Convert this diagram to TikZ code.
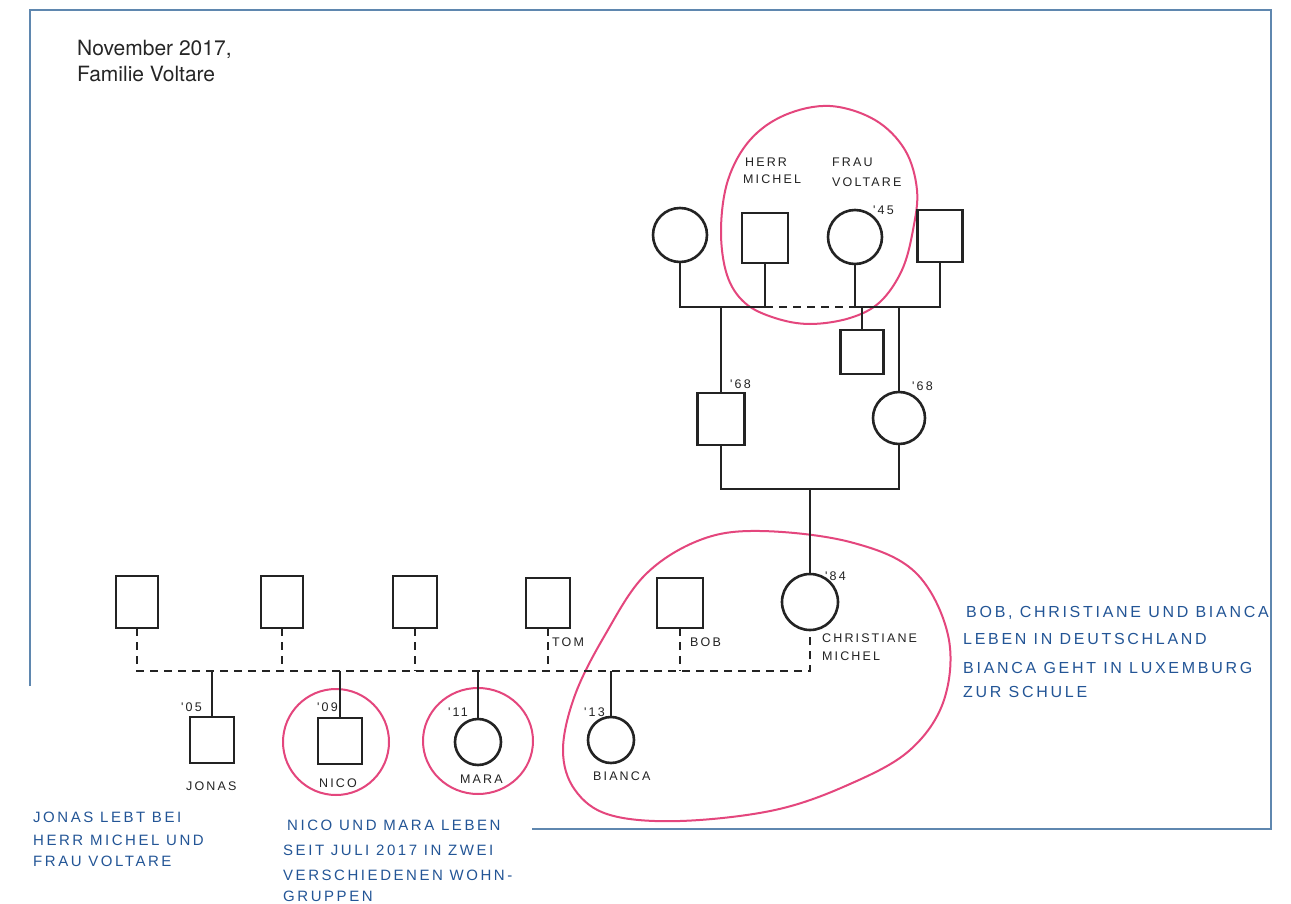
\documentclass[tikz,border=0pt]{standalone}
\usepackage{fontspec}
\setmainfont{TeX Gyre Heros}
\newfontfamily\hand[LetterSpace=17,WordSpace=2]{Liberation Sans}
\newfontfamily\handlbl[LetterSpace=17]{Liberation Sans}
\definecolor{frameblue}{RGB}{95,135,175}
\definecolor{pinkline}{RGB}{228,70,125}
\definecolor{inkblue}{RGB}{35,85,150}
\definecolor{inkdark}{RGB}{35,35,35}
\begin{document}
\begin{tikzpicture}[x=1pt,y=-1pt,
  sq/.style={draw=inkdark, line width=2.6pt, minimum width=46pt, minimum height=50pt, inner sep=0pt, outer sep=0pt},
  ci/.style={circle, draw=inkdark, line width=2.6pt, minimum size=54pt, inner sep=0pt, outer sep=0pt},
  ln/.style={draw=inkdark, line width=2.6pt},
  dsh/.style={draw=inkdark, line width=2.6pt, dash pattern=on 8pt off 6pt},
  famloop/.style={draw=pinkline, line width=2pt},
  lbl/.style={text=inkdark, font=\handlbl\fontsize{12.5}{12.5}\selectfont, inner sep=0pt, anchor=base west},
  memo/.style={text=inkblue, font=\hand\fontsize{16}{16}\selectfont, inner sep=0pt, anchor=base west},
  smallmemo/.style={text=inkblue, font=\hand\fontsize{15}{15}\selectfont, inner sep=0pt, anchor=base west},
  titletext/.style={anchor=base west, inner sep=0pt, font=\fontsize{21}{21}\selectfont, text=black!85},
  framel/.style={draw=frameblue, line width=2pt}]
\useasboundingbox (0,0) rectangle (1291,904);
\fill[white] (0,0) rectangle (1291,904);

% frame
\coordinate (fA) at (30,686);
\coordinate (fB) at (30,10);
\coordinate (fC) at (1271,10);
\coordinate (fD) at (1271,829);
\coordinate (fE) at (532,829);
\draw[framel] (fA) -- (fB) -- (fC) -- (fD) -- (fE);

% title
\node[titletext] (title1) at (77,56) {November 2017,};
\node[titletext] (title2) at (77,82) {Familie Voltare};

% pink loops
\draw[famloop] plot[smooth cycle, tension=0.6] coordinates {(721,230) (727,275) (745,303) (775,318) (810,324) (850,318) (880,302) (902,270) (913,230) (917,190) (905,150) (875,120) (830,106) (785,115) (750,140) (728,180)};
\draw[famloop] plot[smooth cycle, tension=0.6] coordinates {(760,531) (850,542) (915,572) (948,635) (944,700) (910,750) (850,784) (775,810) (680,821) (610,815) (575,790) (563,750) (575,695) (605,635) (645,575) (700,540)};
\draw[famloop] (336,742) ellipse [x radius=53pt, y radius=53pt];
\draw[famloop] (478,741) ellipse [x radius=55pt, y radius=53pt];

% generation 1
\node[ci] (gmL) at (680,235) {};
\node[sq] (herr) at (765,238) {};
\node[ci] (frau) at (855,237) {};
\node[sq, minimum width=45pt, minimum height=52pt] (gpR) at (940,236) {};
\node[sq, minimum width=43pt, minimum height=44pt] (half) at (862,352) {};

% generation 2
\node[sq, minimum width=47pt, minimum height=52pt] (father) at (721,419) {};
\node[ci, minimum size=52pt] (mother) at (899,418) {};

% generation 3
\node[ci, minimum size=56pt] (chris) at (810,602) {};
\node[sq, minimum width=42pt, minimum height=52pt] (p1) at (137,602) {};
\node[sq, minimum width=42pt, minimum height=52pt] (p2) at (282,602) {};
\node[sq, minimum width=44pt, minimum height=52pt] (p3) at (415,602) {};
\node[sq, minimum width=44pt, minimum height=50pt] (tom) at (548,603) {};
\node[sq, minimum width=46pt, minimum height=50pt] (bob) at (680,603) {};

% generation 4
\node[sq, minimum width=44pt, minimum height=46pt] (jonas) at (212,740) {};
\node[sq, minimum width=44pt, minimum height=46pt] (nico) at (340,741) {};
\node[ci, minimum size=46pt] (mara) at (478,742) {};
\node[ci, minimum size=46pt] (bianca) at (611,740) {};

% bars
\coordinate (barTop) at (0,307);
\coordinate (barMid) at (0,489);
\coordinate (barLow) at (0,671);

\draw[ln] (gmL.south) |- (herr.south |- barTop) -- (herr.south);
\draw[dsh] (herr.south |- barTop) -- (frau.south |- barTop);
\draw[ln] (frau.south) |- (gpR.south |- barTop) -- (gpR.south);
\draw[ln] (father.north |- barTop) -- (father.north);
\draw[ln] (half.north |- barTop) -- (half.north);
\draw[ln] (mother.north |- barTop) -- (mother.north);

\draw[ln] (father.south) |- (mother.south |- barMid) -- (mother.south);
\draw[ln] (chris.north |- barMid) -- (chris.north);

\draw[dsh] (p1.south) |- (chris.south |- barLow) -- (chris.south);
\draw[dsh] (p2.south) -- (p2.south |- barLow);
\draw[dsh] (p3.south) -- (p3.south |- barLow);
\draw[dsh] (tom.south) -- (tom.south |- barLow);
\draw[dsh] (bob.south) -- (bob.south |- barLow);

\draw[ln] (jonas.north |- barLow) -- (jonas.north);
\draw[ln] (nico.north |- barLow) -- (nico.north);
\draw[ln] (mara.north |- barLow) -- (mara.north);
\draw[ln] (bianca.north |- barLow) -- (bianca.north);

% labels in the diagram
\node[lbl] (lHerr) at (745,167) {HERR};
\node[lbl] (lMichel) at (743,184) {MICHEL};
\node[lbl] (lFrau) at (832,167) {FRAU};
\node[lbl] (lVoltare) at (832,187) {VOLTARE};
\node[lbl] (l45) at (873,215) {'45};
\node[lbl] (l68a) at (730,388) {'68};
\node[lbl] (l68b) at (912,390) {'68};
\node[lbl] (l84) at (825,580) {'84};
\node[lbl] (lChris) at (822,642) {CHRISTIANE};
\node[lbl] (lChris2) at (822,660) {MICHEL};
\node[lbl] (lTom) at (552,646) {TOM};
\node[lbl] (lBob) at (690,646) {BOB};
\node[lbl] (l05) at (181,711) {'05};
\node[lbl] (l09) at (317,711) {'09};
\node[lbl] (l11) at (448,716) {'11};
\node[lbl] (l13) at (584,716) {'13};
\node[lbl] (lJonas) at (186,790) {JONAS};
\node[lbl] (lNico) at (319,787) {NICO};
\node[lbl] (lMara) at (460,783) {MARA};
\node[lbl] (lBianca) at (593,780) {BIANCA};

% notes
\node[memo] (n1) at (966,617) {BOB, CHRISTIANE UND BIANCA};
\node[memo] (n2) at (963,644) {LEBEN IN DEUTSCHLAND};
\node[memo] (n3) at (963,673) {BIANCA GEHT IN LUXEMBURG};
\node[memo] (n4) at (963,697) {ZUR SCHULE};

\node[smallmemo] (m1) at (33,822) {JONAS LEBT BEI};
\node[smallmemo] (m2) at (33,845) {HERR MICHEL UND};
\node[smallmemo] (m3) at (33,866) {FRAU VOLTARE};

\node[smallmemo] (k1) at (287,830) {NICO UND MARA LEBEN};
\node[smallmemo] (k2) at (283,855) {SEIT JULI 2017 IN ZWEI};
\node[smallmemo] (k3) at (283,880) {VERSCHIEDENEN WOHN-};
\node[smallmemo] (k4) at (283,901) {GRUPPEN};
\end{tikzpicture}
\end{document}
